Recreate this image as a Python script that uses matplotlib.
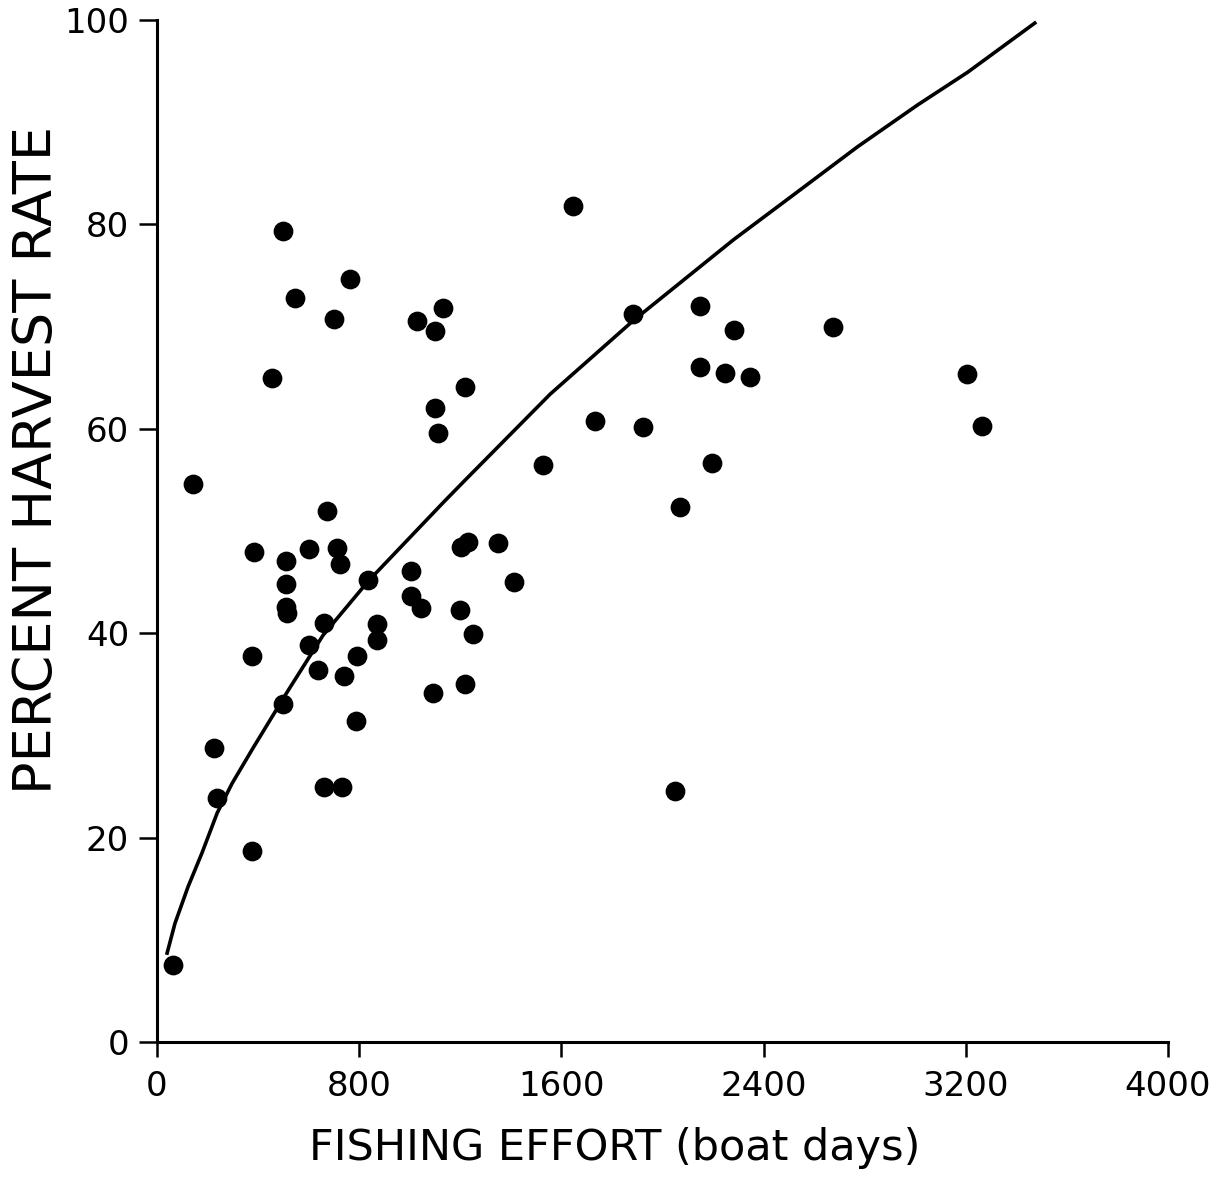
import matplotlib.pyplot as plt

# Observed points (fishing effort in boat days, percent harvest rate)
effort = [63, 143, 226, 238, 376, 376, 384, 455, 499, 499, 511, 511, 511, 515,
          547, 602, 602, 638, 661, 661, 673, 701, 713, 725, 733, 741, 764, 788,
          792, 836, 871, 871, 1006, 1006, 1030, 1046, 1093, 1101, 1101, 1113,
          1133, 1200, 1204, 1220, 1220, 1232, 1251, 1350, 1414, 1529, 1644,
          1731, 1885, 1921, 2051, 2071, 2150, 2147, 2194, 2246, 2281, 2345,
          2673, 3204, 3263]
harvest = [7.5, 54.6, 28.8, 23.9, 18.7, 37.8, 47.9, 65.0, 79.4, 33.1, 47.1, 44.8,
           42.6, 42.0, 72.8, 48.2, 38.8, 36.4, 41.0, 25.0, 52.0, 70.7, 48.3, 46.8,
           25.0, 35.8, 74.7, 31.4, 37.8, 45.2, 40.9, 39.3, 46.1, 43.6, 70.5, 42.5,
           34.1, 69.6, 62.0, 59.6, 71.8, 42.3, 48.4, 64.1, 35.0, 48.9, 39.9, 48.8,
           45.0, 56.5, 81.8, 60.8, 71.2, 60.2, 24.6, 52.3, 72.0, 66.0, 56.7, 65.5,
           69.7, 65.1, 70.0, 65.4, 60.3]

# Fitted curve
curve_x = [40, 71, 123, 178, 238, 297, 376, 440, 519, 657, 836, 1133, 1220,
           1556, 1885, 2281, 2535, 2772, 3010, 3208, 3473]
curve_y = [8.7, 11.6, 15.2, 18.5, 22.4, 25.3, 28.6, 31.2, 34.4, 39.8, 45.1,
           52.8, 55.0, 63.4, 70.6, 78.5, 83.2, 87.6, 91.7, 94.9, 99.7]

xticks = [0, 800, 1600, 2400, 3200, 4000]
yticks = [0, 20, 40, 60, 80, 100]

fig = plt.figure(figsize=(12.26, 11.85), dpi=100)
ax = fig.add_axes([157 / 1226, 143 / 1185, 1011 / 1226, 1022 / 1185])

ax.plot(curve_x, curve_y, color="black", linewidth=2.6, clip_on=False,
        solid_joinstyle="round")
ax.scatter(effort, harvest, s=175, color="black", zorder=3, clip_on=False)

ax.set_xlim(0, 4000)
ax.set_ylim(0, 100)
ax.set_xticks(xticks)
ax.set_yticks(yticks)
ax.tick_params(direction="out", width=1.8, labelsize=24.5)
ax.tick_params(axis="x", length=11, pad=9)
ax.tick_params(axis="y", length=13, pad=7)

for side in ["top", "right"]:
    ax.spines[side].set_visible(False)
for side in ["left", "bottom"]:
    ax.spines[side].set_linewidth(2.2)

fig.text(37 / 1226, 1 - 460 / 1185, "PERCENT HARVEST RATE", rotation=90,
         ha="center", va="center", fontsize=39)
fig.text(615 / 1226, 1 - 1148 / 1185, "FISHING EFFORT (boat days)",
         ha="center", va="center", fontsize=31)

fig.savefig("out.png", dpi=100, facecolor="white")
